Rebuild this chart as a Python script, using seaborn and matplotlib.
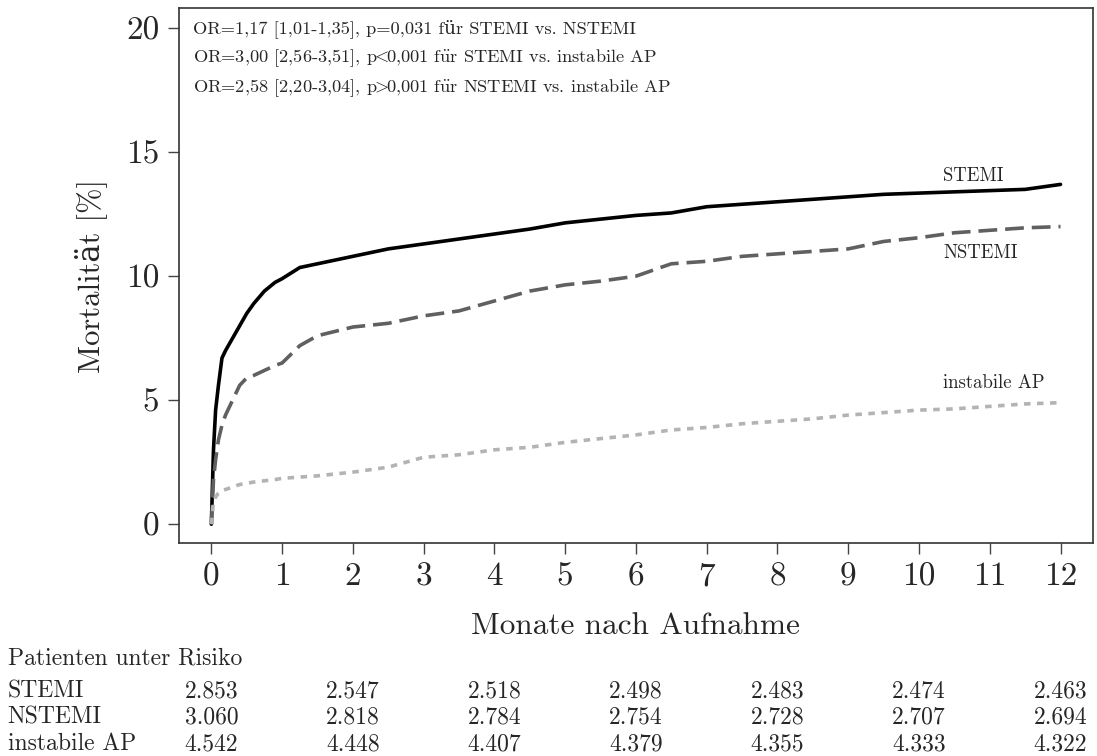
import numpy as np
import pandas as pd
import matplotlib
matplotlib.use("Agg")
import matplotlib.pyplot as plt
import matplotlib.transforms as mtransforms
import seaborn as sns

# Kumulative Mortalität [%] je Gruppe
months = [0, 0.03, 0.06, 0.1, 0.15, 0.2, 0.3, 0.4, 0.5, 0.6, 0.75, 0.9, 1.0, 1.25, 1.5,
          2.0, 2.5, 3.0, 3.5, 4.0, 4.5, 5.0, 5.5, 6.0, 6.5, 7.0, 7.5, 8.0, 8.5,
          9.0, 9.5, 10.0, 10.5, 11.0, 11.5, 12.0]
stemi = [0, 3.0, 4.6, 5.6, 6.7, 7.0, 7.5, 8.0, 8.5, 8.9, 9.4, 9.75, 9.9, 10.35, 10.5,
         10.8, 11.1, 11.3, 11.5, 11.7, 11.9, 12.15, 12.3, 12.45, 12.55, 12.8, 12.9, 13.0, 13.1,
         13.2, 13.3, 13.35, 13.4, 13.45, 13.5, 13.7]
nstemi = [0, 1.8, 2.6, 3.4, 4.0, 4.4, 5.0, 5.6, 5.9, 6.0, 6.2, 6.4, 6.5, 7.2, 7.6,
          7.95, 8.1, 8.4, 8.6, 9.0, 9.4, 9.65, 9.8, 10.0, 10.5, 10.6, 10.8, 10.9, 11.0,
          11.1, 11.4, 11.55, 11.75, 11.85, 11.95, 12.0]
instabile = [0, 0.9, 1.1, 1.25, 1.35, 1.4, 1.5, 1.6, 1.65, 1.7, 1.75, 1.8, 1.85, 1.9, 1.95,
             2.1, 2.3, 2.7, 2.8, 3.0, 3.1, 3.3, 3.45, 3.6, 3.8, 3.9, 4.05, 4.15, 4.25,
             4.4, 4.5, 4.6, 4.65, 4.75, 4.85, 4.9]

groups = ["STEMI", "NSTEMI", "instabile AP"]
x_ticks = list(range(0, 13))
y_ticks = [0, 5, 10, 15, 20]

# Patienten unter Risiko (Monat 0, 2, ..., 12)
risk_months = [0, 2, 4, 6, 8, 10, 12]
risk_stemi = ["2.853", "2.547", "2.518", "2.498", "2.483", "2.474", "2.463"]
risk_nstemi = ["3.060", "2.818", "2.784", "2.754", "2.728", "2.707", "2.694"]
risk_instabile = ["4.542", "4.448", "4.407", "4.379", "4.355", "4.333", "4.322"]

or_lines = [
    "OR=1,17 [1,01-1,35], p=0,031 für STEMI vs. NSTEMI",
    r"OR=3,00 [2,56-3,51], p$\!\!<\!\!$0,001 f$\ddot{\mathrm{u}}$r STEMI vs. instabile AP",
    r"OR=2,58 [2,20-3,04], p$\!\!>\!\!$0,001 f$\ddot{\mathrm{u}}$r NSTEMI vs. instabile AP",
]

sns.set_style("ticks")
plt.rcParams["font.family"] = ["cmr10", "DejaVu Serif"]
plt.rcParams["mathtext.fontset"] = "cm"
plt.rcParams["axes.formatter.use_mathtext"] = True

df = pd.concat([
    pd.DataFrame({"Monat": months, "Mortalitaet": stemi, "Gruppe": "STEMI"}),
    pd.DataFrame({"Monat": months, "Mortalitaet": nstemi, "Gruppe": "NSTEMI"}),
    pd.DataFrame({"Monat": months, "Mortalitaet": instabile, "Gruppe": "instabile AP"}),
])

fig = plt.figure(figsize=(10.97, 7.56), dpi=100)
ax = fig.add_axes([0.163, 0.282, 0.8334, 0.707])

palette = {"STEMI": "#000000", "NSTEMI": "#606060", "instabile AP": "#b3b3b3"}
dashes = {"STEMI": "", "NSTEMI": (5.2, 2.2), "instabile AP": (1.8, 1.8)}
sns.lineplot(data=df, x="Monat", y="Mortalitaet", hue="Gruppe", style="Gruppe",
             palette=palette, dashes=dashes, linewidth=2.6, legend=False, ax=ax)

ax.set_xlim(-0.46, 12.46)
ax.set_ylim(-0.75, 20.8)
ax.set_xticks(x_ticks)
ax.set_yticks(y_ticks)
ax.set_xticklabels([str(v) for v in x_ticks], fontsize=24)
ax.set_yticklabels([str(v) for v in y_ticks], fontsize=24)
ax.tick_params(direction="out", length=8, width=1, color="#444444", pad=6)
for sp in ax.spines.values():
    sp.set_visible(True)
    sp.set_color("#333333")
    sp.set_linewidth(1.2)

ax.set_xlabel("Monate nach Aufnahme", fontsize=22.5, labelpad=15)
ax.set_ylabel("Mortalität [%]", fontsize=22, labelpad=14)

# Odds-Ratio-Angaben
for i, line in enumerate(or_lines):
    ax.text(0.0155, 0.963 - i * 0.056, line, transform=ax.transAxes,
            fontsize=13.2, va="center", ha="left")

# Kurvenbeschriftungen
ax.text(10.34, 14.05, "STEMI", fontsize=13.5, va="center", ha="left")
ax.text(10.34, 10.95, "NSTEMI", fontsize=13.5, va="center", ha="left")
ax.text(10.34, 5.7, "instabile AP", fontsize=13.5, va="center", ha="left")

# Patienten unter Risiko
trans = mtransforms.blended_transform_factory(ax.transData, fig.transFigure)
fig.text(0.007, 1 - 658 / 756, "Patienten unter Risiko", fontsize=17, va="center", ha="left")
rows = [("STEMI", risk_stemi), ("NSTEMI", risk_nstemi), ("instabile AP", risk_instabile)]
for r, (name, vals) in enumerate(rows):
    yf = 1 - (691 + r * 26.5) / 756
    fig.text(0.007, yf, name, fontsize=17, va="center", ha="left")
    for m, v in zip(risk_months, vals):
        ax.text(m, yf, v, transform=trans, fontsize=17, va="center", ha="center",
                clip_on=False)

fig.savefig("out.png", dpi=100)
